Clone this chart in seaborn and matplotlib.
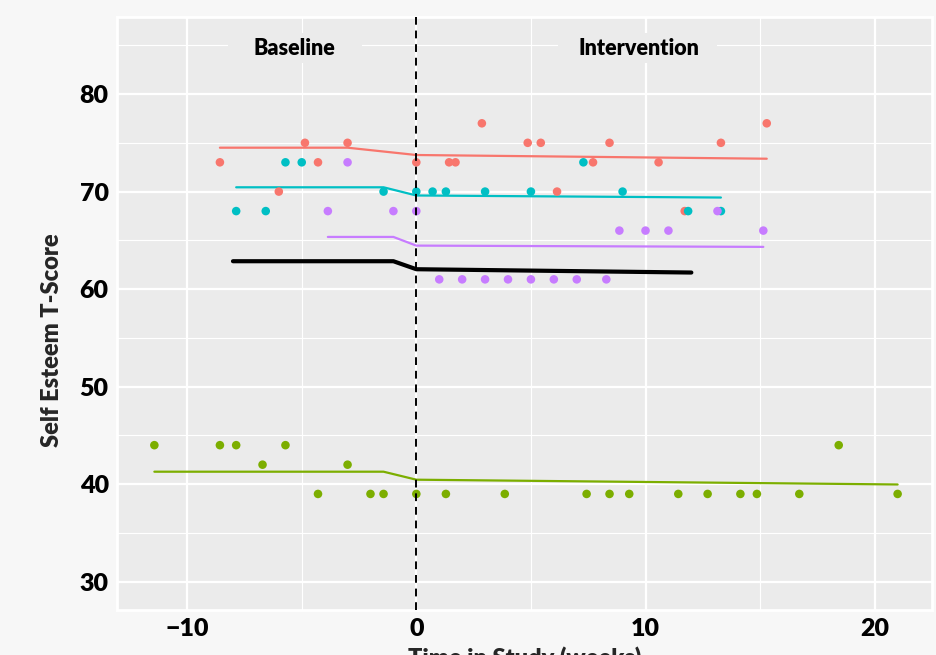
import matplotlib
matplotlib.use("Agg")
import matplotlib.pyplot as plt
import seaborn as sns
import pandas as pd
from matplotlib.patches import Rectangle

# ---------------- data ----------------
red_x = [-8.57, -6.0, -4.86, -4.29, -3.0, 0.0, 1.43, 1.71, 2.86, 4.86, 5.43, 6.14, 7.71, 8.43, 10.57, 11.71, 13.29, 15.29]
red_y = [73, 70, 75, 73, 75, 73, 73, 73, 77, 75, 75, 70, 73, 75, 73, 68, 75, 77]

green_x = [-11.43, -8.57, -7.86, -6.71, -5.71, -4.29, -3.0, -2.0, -1.43, 0.0, 1.29, 3.86, 7.43, 8.43, 9.29, 11.43, 12.71, 14.14, 14.86, 16.71, 18.43, 21.0]
green_y = [44, 44, 44, 42, 44, 39, 42, 39, 39, 39, 39, 39, 39, 39, 39, 39, 39, 39, 39, 39, 44, 39]

cyan_x = [-7.86, -6.57, -5.71, -5.0, -1.43, 0.0, 0.71, 1.29, 3.0, 5.0, 7.29, 9.0, 11.86, 13.29]
cyan_y = [68, 68, 73, 73, 70, 70, 70, 70, 70, 70, 73, 70, 68, 68]

purple_x = [-3.86, -3.0, -1.0, 0.0, 1.0, 2.0, 3.0, 4.0, 5.0, 6.0, 7.0, 8.29, 8.86, 10.0, 11.0, 13.14, 15.14]
purple_y = [68, 73, 68, 68, 61, 61, 61, 61, 61, 61, 61, 61, 66, 66, 66, 68, 66]

# fitted trajectories
red_fit_x = [-8.57, -3.0, 0.0, 15.29]
red_fit_y = [74.5, 74.5, 73.75, 73.37]
green_fit_x = [-11.43, -1.43, 0.0, 21.0]
green_fit_y = [41.28, 41.28, 40.46, 39.97]
cyan_fit_x = [-7.86, -1.43, 0.0, 13.29]
cyan_fit_y = [70.44, 70.44, 69.6, 69.39]
purple_fit_x = [-3.86, -1.0, 0.0, 15.14]
purple_fit_y = [65.35, 65.35, 64.46, 64.33]
mean_fit_x = [-8.0, -1.0, 0.0, 12.0]
mean_fit_y = [62.86, 62.86, 62.04, 61.7]

participants = ["A", "B", "C", "D"]
colors = ["#F8766D", "#7CAE00", "#00BFC4", "#C77CFF"]
x_ticks = [-10, 0, 10, 20]
y_ticks = [30, 40, 50, 60, 70, 80]
phase_labels = ["Baseline", "Intervention"]
phase_label_x = [-5.3, 9.7]
phase_label_y = 84.7
x_label = "Time in Study (weeks)"
y_label = "Self Esteem T-Score"

# ---------------- build frames ----------------
pts = pd.concat([
    pd.DataFrame({"time": red_x, "score": red_y, "id": "A"}),
    pd.DataFrame({"time": green_x, "score": green_y, "id": "B"}),
    pd.DataFrame({"time": cyan_x, "score": cyan_y, "id": "C"}),
    pd.DataFrame({"time": purple_x, "score": purple_y, "id": "D"}),
], ignore_index=True)
fits = pd.concat([
    pd.DataFrame({"time": red_fit_x, "fit": red_fit_y, "id": "A"}),
    pd.DataFrame({"time": green_fit_x, "fit": green_fit_y, "id": "B"}),
    pd.DataFrame({"time": cyan_fit_x, "fit": cyan_fit_y, "id": "C"}),
    pd.DataFrame({"time": purple_fit_x, "fit": purple_fit_y, "id": "D"}),
], ignore_index=True)
mean_df = pd.DataFrame({"time": mean_fit_x, "fit": mean_fit_y})

# ---------------- style ----------------
sns.set_theme(style="darkgrid")
plt.rcParams["font.family"] = ["Lato", "DejaVu Sans"]
plt.rcParams["font.weight"] = "heavy"
FW = "heavy"
bg = "#f7f7f7"
panel = "#ebebeb"
pal = dict(zip(participants, colors))

fig = plt.figure(figsize=(9.36, 6.55), dpi=100, facecolor=bg)
ax = fig.add_axes([117/936, 1-610/655, (932-117)/936, (610-17)/655])
ax.set_facecolor(panel)

sns.lineplot(data=fits, x="time", y="fit", hue="id", palette=pal, sort=False,
             estimator=None, linewidth=1.6, legend=False, ax=ax, zorder=2)
sns.lineplot(data=mean_df, x="time", y="fit", color="black", sort=False,
             estimator=None, linewidth=3.0, legend=False, ax=ax, zorder=3)
sns.scatterplot(data=pts, x="time", y="score", hue="id", palette=pal, s=38,
                edgecolor="none", legend=False, ax=ax, zorder=4)
ax.axvline(0, color="black", linestyle=(0, (4, 3)), linewidth=1.4, zorder=5)

ax.set_xlim(-13.06, 22.5)
ax.set_ylim(27.1, 87.9)
ax.set_xticks(x_ticks)
ax.set_yticks(y_ticks)
ax.set_xticks([-5, 5, 15], minor=True)
ax.set_yticks([35, 45, 55, 65, 75, 85], minor=True)
ax.grid(which="major", color="white", linewidth=1.6)
ax.grid(which="minor", color="white", linewidth=0.8)
ax.set_axisbelow(True)
for s in ax.spines.values():
    s.set_visible(True)
    s.set_color("white")
    s.set_linewidth(2)

ax.tick_params(axis="both", which="major", length=4, width=1, color="#444444",
               labelsize=18, labelcolor="black", pad=2)
ax.tick_params(axis="both", which="minor", length=0)
for lab in ax.get_xticklabels() + ax.get_yticklabels():
    lab.set_fontweight(FW)

# phase labels with panel-coloured background
ax.add_patch(Rectangle((-8.2, 83.2), 5.84, 3.05, facecolor=panel, edgecolor="none", zorder=1.5))
ax.add_patch(Rectangle((6.2, 83.2), 6.9, 3.05, facecolor=panel, edgecolor="none", zorder=1.5))
for lbl, lx in zip(phase_labels, phase_label_x):
    ax.text(lx, phase_label_y, lbl, ha="center", va="center", fontsize=15.5,
            fontweight=FW, color="black", zorder=6)

ax.set_xlabel(x_label, fontsize=17, fontweight=FW, labelpad=4)
ax.set_ylabel(y_label, fontsize=17, fontweight=FW)
ax.yaxis.set_label_coords(-0.066, 0.455)

fig.savefig("out.png", dpi=100, facecolor=bg)
